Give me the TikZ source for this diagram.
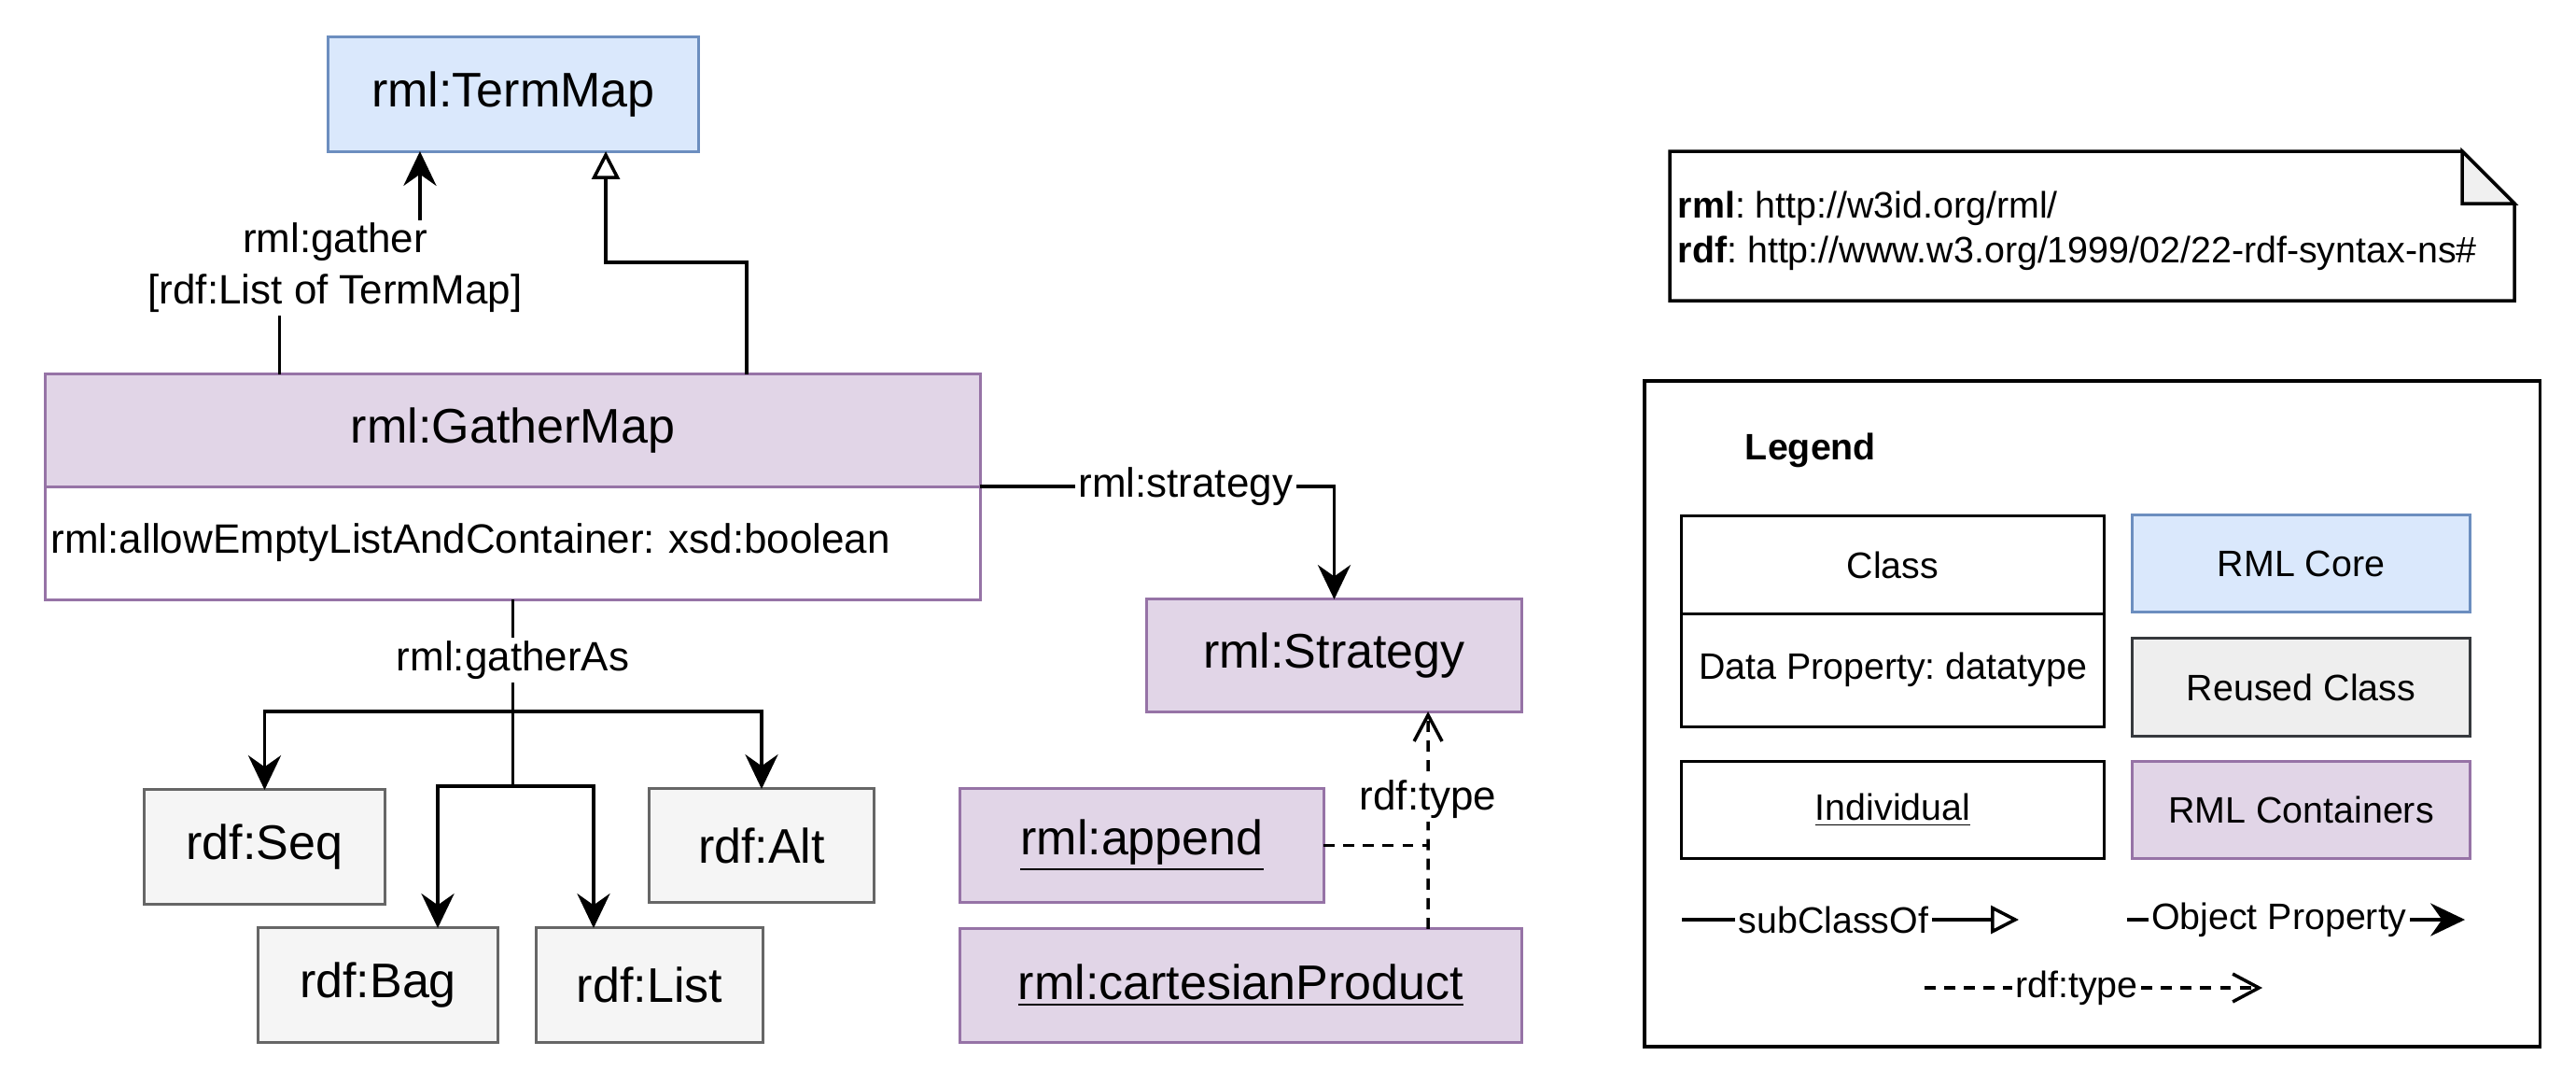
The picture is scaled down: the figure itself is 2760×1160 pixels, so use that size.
\documentclass[tikz,border=0pt]{standalone}
\usepackage{fontspec}
\setmainfont{Liberation Sans}
\usetikzlibrary{arrows.meta, positioning}
\frenchspacing

\definecolor{coreFill}{HTML}{DAE8FC}
\definecolor{coreLine}{HTML}{6C8EBF}
\definecolor{contFill}{HTML}{E1D5E7}
\definecolor{contLine}{HTML}{9673A6}
\definecolor{reuseFill}{HTML}{F5F5F5}
\definecolor{reuseLine}{HTML}{666666}
\definecolor{legReuseFill}{HTML}{EEEEEE}
\definecolor{legReuseLine}{HTML}{36393D}
\definecolor{foldFill}{HTML}{F0F0F0}

\begin{document}
\begin{tikzpicture}[x=0.01cm, y=-0.01cm]
  \tikzstyle{element}=[rectangle, draw, line width=0.85pt, inner sep=0pt, outer sep=0pt, font=\fontsize{14.8}{17.8}\selectfont]
  \tikzstyle{core}=[element, fill=coreFill, draw=coreLine]
  \tikzstyle{container}=[element, fill=contFill, draw=contLine]
  \tikzstyle{reused}=[element, fill=reuseFill, draw=reuseLine]
  \tikzstyle{edgelabel}=[fill=white, inner sep=1pt, align=center, font=\fontsize{12.5}{15.6}\selectfont]
  \tikzstyle{legendtext}=[font=\fontsize{11.2}{13.7}\selectfont]
  \tikzstyle{legendbox}=[element, legendtext, minimum width=4.52cm]
  \tikzstyle{legendlabel}=[edgelabel, legendtext]
  \tikzstyle{objprop}=[line width=1pt, -{Stealth[length=10.5pt, width=10pt, inset=3.5pt]}]
  \tikzstyle{subclass}=[line width=1pt, -{Triangle[open, length=8.5pt, width=8.5pt]}]
  \tikzstyle{typeline}=[line width=1pt, dash pattern=on 3.4pt off 2.6pt]
  \tikzstyle{rdftype}=[typeline, -{Straight Barb[length=8pt, width=8.5pt]}]

  \useasboundingbox (0,0) rectangle (2760,1160);

  \node[core, minimum width=3.96cm, minimum height=1.22cm] (termmap) at (550,101) {rml:TermMap};
  \node[container, minimum width=10.01cm, minimum height=1.2cm] (gathermap) at (549.5,461) {rml:GatherMap};
  \node[element, draw=contLine, below=0cm of gathermap, text width=9.89cm, inner xsep=0.06cm, minimum height=1.21cm, align=left, font=\fontsize{12.5}{15}\selectfont] (gatherattr) {rml:allowEmptyListAndContainer: xsd:boolean};

  \node[container, minimum width=4.01cm, minimum height=1.2cm] (strategy) at (1429.5,702) {rml:Strategy};
  \node[container, minimum width=3.89cm, minimum height=1.21cm] (append) at (1223.5,905.5) {\underline{rml:append}};
  \node[container, minimum width=6.01cm, minimum height=1.21cm] (cartesian) at (1329.5,1055.5) {\underline{rml:cartesianProduct}};

  \node[reused, minimum width=2.57cm, minimum height=1.22cm] (seq) at (283.5,907) {rdf:Seq};
  \node[reused, minimum width=2.40cm, minimum height=1.21cm] (alt) at (816,905.5) {rdf:Alt};
  \node[reused, minimum width=2.56cm, minimum height=1.22cm] (bag) at (405,1055) {rdf:Bag};
  \node[reused, minimum width=2.42cm, minimum height=1.22cm] (list) at (696,1055) {rdf:List};

  \draw[objprop] ([xshift=2.505cm]gathermap.north west) -- ++(0,-116) -| ([xshift=-1cm]termmap.south);
  \node[edgelabel] (gatherlabel) at (359,287) {rml:gather\\{}[rdf:List of TermMap]};
  \draw[subclass] ([xshift=7.51cm]gathermap.north west) -- ++(0,-120) -| ([xshift=0.99cm]termmap.south);
  \draw[objprop] (gathermap.south east) -| (strategy.north) node[pos=0.29, edgelabel] (strategylabel) {rml:strategy};

  \draw[line width=1pt] (gatherattr.south) -- ++(0,120) coordinate (forka) -- ++(0,80) coordinate (forkb);
  \node[edgelabel] (gatheraslabel) at (549.5,707) {rml:gatherAs};
  \draw[objprop] (forka) -| (seq.north);
  \draw[objprop] (forka) -| (alt.north);
  \draw[objprop] (forkb) -| ([xshift=0.64cm]bag.north);
  \draw[objprop] (forkb) -| ([xshift=-0.6cm]list.north);

  \coordinate (typejoin) at ([xshift=1.005cm]strategy.south);
  \draw[rdftype] ([xshift=2.005cm]cartesian.north) -- (typejoin);
  \draw[typeline] (append.east) -- (append.east -| typejoin);
  \node[edgelabel] (typelabel) at (1530,856) {rdf:type};

  \draw[line width=1pt, fill=white] (1789,162) -- (2638,162) -- (2694,218) -- (2694,322) -- (1789,322) -- cycle;
  \draw[line width=1pt, fill=foldFill] (2638,162) -- (2638,218) -- (2694,218) -- cycle;
  \node[legendtext, anchor=west, align=left, inner sep=0pt] (prefixes) at (1797,247) {\textbf{rml}: http://w3id.org/rml/\\\textbf{rdf}: http://www.w3.org/1999/02/22-rdf-syntax-ns\#};

  \node[draw, line width=1pt, minimum width=9.59cm, minimum height=7.13cm] (legendframe) at (2241.5,764.5) {};
  \node[legendtext] (legendtitle) at (1940,482) {\textbf{Legend}};
  \node[legendbox, minimum height=1.04cm] (lclass) at (2028,605) {Class};
  \node[legendbox, below=0cm of lclass, minimum height=1.21cm] (ldataprop) {Data Property: datatype};
  \node[legendbox, minimum height=1.03cm] (lindividual) at (2028,867.5) {\underline{Individual}};
  \node[core, legendtext, minimum width=3.61cm, minimum height=1.03cm] (lcore) at (2465.5,603.5) {RML Core};
  \node[element, legendtext, fill=legReuseFill, draw=legReuseLine, minimum width=3.61cm, minimum height=1.04cm] (lreused) at (2465.5,736) {Reused Class};
  \node[container, legendtext, minimum width=3.61cm, minimum height=1.03cm] (lcontainer) at (2465.5,867.5) {RML Containers};

  \coordinate (subfrom) at (1802,985);
  \coordinate (subto) at (2163,985);
  \coordinate (objfrom) at (2279,985);
  \coordinate (objto) at (2641,985);
  \coordinate (typefrom) at (2062,1058);
  \coordinate (typeto) at (2424,1058);
  \draw[subclass] (subfrom) -- (subto) node[pos=0.45, legendlabel] (lsublabel) {subClassOf};
  \draw[objprop] (objfrom) -- (objto) node[pos=0.45, legendlabel] (lobjlabel) {Object Property};
  \draw[rdftype] (typefrom) -- (typeto) node[pos=0.45, legendlabel] (ltypelabel) {rdf:type};
\end{tikzpicture}
\end{document}
